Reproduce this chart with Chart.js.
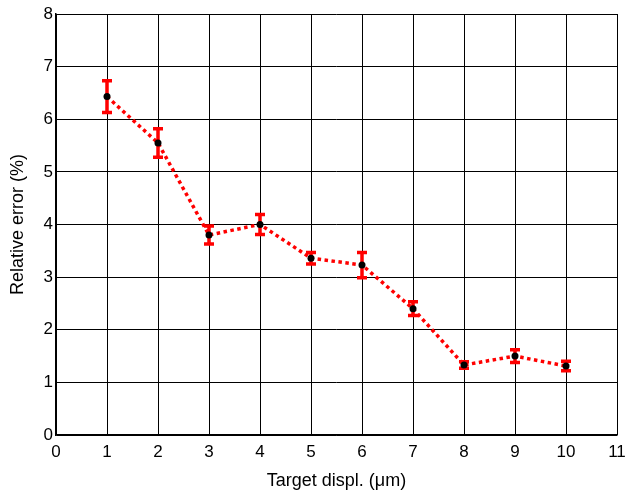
<!DOCTYPE html>
<html>
<head>
<meta charset="utf-8">
<script src="https://cdn.jsdelivr.net/npm/chart.js@4.4.1/dist/chart.umd.min.js"></script>
<style>
  html, body { margin: 0; padding: 0; background: #fff; }
  #wrap { width: 625px; height: 492px; }
</style>
</head>
<body>
<div id="wrap"><canvas id="errChart"></canvas></div>
<script>
const displ = [1, 2, 3, 4, 5, 6, 7, 8, 9, 10];
const relError = [6.43, 5.55, 3.80, 4.00, 3.36, 3.23, 2.40, 1.33, 1.50, 1.31];
const errSize = [0.30, 0.27, 0.17, 0.19, 0.11, 0.24, 0.13, 0.06, 0.12, 0.09];

const chartColors = {
    line: '#FF0000',
    marker: '#000000',
    grid: '#000000',
    text: '#000000',
};

const fontFamily = '"Liberation Sans", Arial, Helvetica, sans-serif';

// draws vertical error bars with caps under the line
const errorBars = {
    id: 'errorBars',
    beforeDatasetsDraw(chart) {
        const c = chart.ctx;
        const xs = chart.scales.x;
        const ys = chart.scales.y;
        c.save();
        c.strokeStyle = chartColors.line;
        c.lineWidth = 3.5;
        c.lineCap = 'butt';
        displ.forEach((d, i) => {
            const px = xs.getPixelForValue(d);
            const top = ys.getPixelForValue(relError[i] + errSize[i]);
            const bot = ys.getPixelForValue(relError[i] - errSize[i]);
            c.beginPath();
            c.moveTo(px, top);
            c.lineTo(px, bot);
            c.moveTo(px - 5, top);
            c.lineTo(px + 5, top);
            c.moveTo(px - 5, bot);
            c.lineTo(px + 5, bot);
            c.stroke();
        });
        c.restore();
    }
};

const ctx = document.getElementById('errChart').getContext('2d');

new Chart(ctx, {
    type: 'line',
    data: {
        datasets: [{
            data: displ.map((d, i) => ({ x: d, y: relError[i] })),
            borderColor: chartColors.line,
            borderWidth: 3.5,
            borderDash: [3.5, 3.5],
            borderCapStyle: 'butt',
            tension: 0,
            fill: false,
            pointRadius: 3.5,
            pointBackgroundColor: chartColors.marker,
            pointBorderColor: chartColors.marker,
            pointBorderWidth: 0
        }]
    },
    options: {
        responsive: true,
        maintainAspectRatio: false,
        animation: false,
        layout: {
            padding: { top: 14, right: 0, left: 0, bottom: 0 }
        },
        scales: {
            x: {
                type: 'linear',
                min: 0,
                max: 11,
                afterFit: scale => {
                    scale.height = 57;
                    scale.paddingRight = 8;
                    scale.paddingLeft = 0;
                },
                grid: { color: chartColors.grid, lineWidth: 1, drawTicks: false },
                border: { color: chartColors.grid, width: 1.5 },
                ticks: {
                    stepSize: 1,
                    padding: 7,
                    color: chartColors.text,
                    font: { family: fontFamily, size: 17 }
                },
                title: {
                    display: true,
                    text: 'Target displ. (μm)',
                    color: chartColors.text,
                    font: { family: fontFamily, size: 18 },
                    padding: { top: 0, bottom: 0 }
                }
            },
            y: {
                min: 0,
                max: 8,
                afterFit: scale => { scale.width = 56; },
                grid: { color: chartColors.grid, lineWidth: 1, drawTicks: false },
                border: { color: chartColors.grid, width: 1.5 },
                ticks: {
                    stepSize: 1,
                    padding: 3,
                    color: chartColors.text,
                    font: { family: fontFamily, size: 17 }
                },
                title: {
                    display: true,
                    text: 'Relative error (%)',
                    color: chartColors.text,
                    font: { family: fontFamily, size: 18 },
                    padding: { top: 7, bottom: 0 }
                }
            }
        },
        plugins: {
            legend: { display: false },
            tooltip: { enabled: false }
        }
    },
    plugins: [errorBars]
});
</script>
</body>
</html>
